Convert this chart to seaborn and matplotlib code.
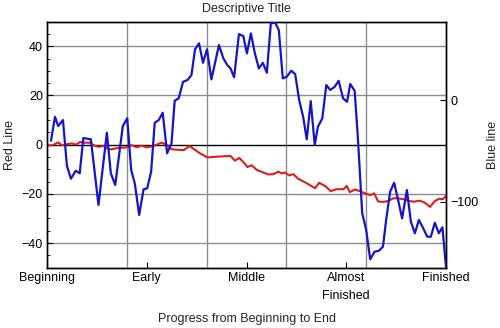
import matplotlib
matplotlib.use("Agg")
import matplotlib.pyplot as plt
import seaborn as sns
import pandas as pd
from matplotlib.ticker import MultipleLocator

# ---- data ----
red_x = [0.003, 0.013, 0.028, 0.038, 0.050, 0.062, 0.073, 0.083, 0.093, 0.108,
         0.116, 0.124, 0.129, 0.141, 0.154, 0.162, 0.179, 0.200, 0.212, 0.225,
         0.237, 0.250, 0.266, 0.287, 0.300, 0.313, 0.338, 0.343, 0.357, 0.364,
         0.381, 0.402, 0.425, 0.460, 0.471, 0.482, 0.494, 0.502, 0.513, 0.526,
         0.542, 0.555, 0.567, 0.580, 0.588, 0.596, 0.607, 0.617, 0.630, 0.651,
         0.672, 0.682, 0.697, 0.711, 0.726, 0.743, 0.751, 0.759, 0.772, 0.784,
         0.797, 0.810, 0.820, 0.830, 0.843, 0.855, 0.868, 0.880, 0.893, 0.906,
         0.918, 0.935, 0.947, 0.960, 0.972, 0.983, 0.992, 1.000]
red_y = [-0.2, -0.3, 0.9, -0.3, 0.2, 0.5, 0.0, 1.1, 0.8, 0.8,
         -0.2, -0.6, -0.9, -0.5, -1.8, -1.9, -1.3, -1.1, -0.2, -1.1,
         -0.4, -1.1, -0.6, 0.8, 0.0, -1.9, -2.2, -2.2, -0.6, -1.3,
         -3.3, -5.2, -4.9, -4.6, -6.5, -5.4, -7.4, -9.1, -8.4, -10.3,
         -11.3, -12.1, -12.0, -11.0, -11.7, -11.3, -12.5, -12.0, -13.9, -15.7,
         -17.7, -15.5, -16.8, -18.9, -18.1, -18.1, -16.8, -19.3, -18.2, -18.9,
         -19.8, -20.5, -19.8, -23.1, -23.3, -22.9, -21.8, -21.8, -22.2, -22.8,
         -23.2, -22.8, -23.6, -25.3, -22.9, -22.0, -22.2, -20.9]

blue_x = [0.010, 0.020, 0.028, 0.040, 0.050, 0.060, 0.072, 0.082, 0.091, 0.110,
          0.129, 0.150, 0.160, 0.171, 0.190, 0.201, 0.211, 0.220, 0.231, 0.242,
          0.251, 0.261, 0.270, 0.280, 0.290, 0.301, 0.312, 0.320, 0.330, 0.341,
          0.352, 0.362, 0.371, 0.381, 0.391, 0.401, 0.412, 0.431, 0.442, 0.452,
          0.460, 0.469, 0.481, 0.492, 0.501, 0.511, 0.521, 0.531, 0.541, 0.551,
          0.561, 0.572, 0.581, 0.591, 0.601, 0.612, 0.622, 0.632, 0.642, 0.651,
          0.661, 0.671, 0.679, 0.690, 0.700, 0.710, 0.721, 0.731, 0.742, 0.752,
          0.760, 0.771, 0.779, 0.790, 0.800, 0.810, 0.821, 0.832, 0.842, 0.850,
          0.860, 0.870, 0.880, 0.890, 0.902, 0.912, 0.922, 0.932, 0.943, 0.953,
          0.962, 0.972, 0.982, 0.991, 1.000]
blue_y = [-40.1, -16.5, -25.6, -19.7, -65.0, -77.5, -69.7, -72.2, -37.4, -38.7,
          -103.4, -32.2, -72.2, -83.7, -25.6, -18.0, -69.0, -82.1, -113.3, -88.0,
          -87.0, -70.6, -22.4, -19.7, -12.5, -52.5, -42.7, -0.7, 1.7, 18.0,
          19.7, 24.6, 50.0, 55.9, 36.7, 50.0, 20.4, 54.2, 41.1, 34.5,
          31.2, 22.4, 65.0, 63.1, 46.0, 65.7, 46.0, 31.2, 36.7, 26.9,
          75.6, 76.2, 69.0, 21.4, 23.0, 28.9, 25.6, 0.0, -16.5, -38.7,
          -1.0, -44.3, -26.3, -18.0, 14.8, 9.9, 13.1, 19.0, 1.7, -1.7,
          15.8, 9.2, -36.2, -111.6, -128.1, -157.0, -149.5, -148.5, -144.5, -118.2,
          -90.3, -81.5, -98.5, -116.6, -88.7, -119.9, -131.3, -118.2, -126.4, -134.7,
          -134.7, -120.9, -131.3, -125.4, -164.2]

x_tick_pos = [0.0, 0.25, 0.5, 0.75, 1.0]
x_tick_labels = ["Beginning", "Early", "Middle", "Almost\nFinished", "Finished"]
grid_x = [0.2, 0.4, 0.6, 0.8]
grid_y = [-40, -20, 20, 40]
left_ticks = [-40, -20, 0, 20, 40]
right_ticks = [-100, 0]

red_df = pd.DataFrame({"x": red_x, "y": red_y})
blue_df = pd.DataFrame({"x": blue_x, "y": blue_y})

sns.set_theme(style="white")
plt.rcParams["font.family"] = ["Liberation Sans", "DejaVu Sans"]

fig = plt.figure(figsize=(5.0, 3.28), dpi=100)
ax = fig.add_axes([0.094, 0.184, 0.798, 0.750])

GRID = "#8c8c8c"
for gx in grid_x:
    ax.axvline(gx, color=GRID, lw=1.0, zorder=0)
for gy in grid_y:
    ax.axhline(gy, color=GRID, lw=1.0, zorder=0)
ax.axhline(0, color="black", lw=1.0, zorder=1)

sns.lineplot(data=red_df, x="x", y="y", ax=ax, color="#dd1c1c", lw=1.5,
             sort=False, zorder=3)

ax.set_xlim(0, 1)
ax.set_ylim(-50, 50)
ax.set_xticks(x_tick_pos)
ax.set_xticklabels(x_tick_labels, fontsize=9, linespacing=1.65)
ax.set_yticks(left_ticks)
ax.yaxis.set_minor_locator(MultipleLocator(5))
ax.tick_params(axis="both", which="major", direction="in", length=4, width=0.8,
               colors="black", labelsize=9, pad=3)
ax.tick_params(axis="y", which="minor", direction="in", length=2.5, width=0.7,
               left=True)
ax.tick_params(axis="x", which="major", top=False, bottom=True)
ax.tick_params(axis="y", which="both", right=False)
ax.set_xlabel("Progress from Beginning to End", fontsize=9, labelpad=8)
ax.set_ylabel("Red Line", fontsize=9, labelpad=4)
ax.set_title("Descriptive Title", fontsize=9, pad=7)
for s in ax.spines.values():
    s.set_color("black")
    s.set_linewidth(1.0)

ax2 = ax.twinx()
sns.lineplot(data=blue_df, x="x", y="y", ax=ax2, color="#1414c8", lw=1.6,
             sort=False, zorder=4)
ax2.set_ylim(-165.2, 77.3)
ax2.set_xlim(0, 1)
ax2.set_yticks(right_ticks)
ax2.tick_params(axis="y", which="major", direction="in", length=4, width=0.8,
                colors="black", labelsize=9, pad=3, right=True, left=False)
ax2.set_ylabel("Blue line", fontsize=9, labelpad=6)
ax2.set_xlabel("")
for s in ax2.spines.values():
    s.set_color("black")
    s.set_linewidth(1.0)

fig.savefig("out.png", dpi=100, facecolor="white")
